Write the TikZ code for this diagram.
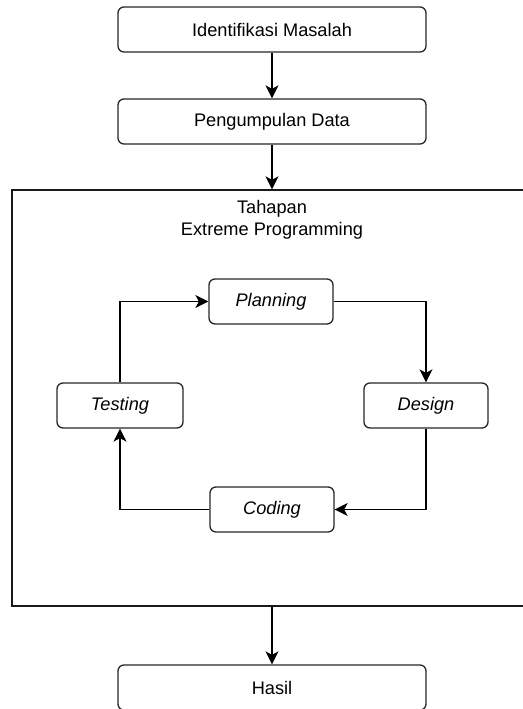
\documentclass[tikz,border=0pt]{standalone}
\usepackage{fontspec}
\setmainfont{Liberation Sans}
\usetikzlibrary{arrows.meta}

\begin{document}
\begin{tikzpicture}[x=1pt, y=-1pt,
  line width=1.3pt,
  every node/.style={font=\fontsize{18.2}{22}\selectfont, inner sep=0pt},
  flowbox/.style={draw=black!85, rounded corners=6pt, minimum width=308pt, minimum height=45pt},
  phase/.style={draw=black!85, rounded corners=6pt, minimum width=124pt, minimum height=45pt, font=\fontsize{18.2}{22}\selectfont\itshape},
  frame/.style={draw=black!90, minimum width=520pt, minimum height=416pt},
  link/.style={draw=black, -{Stealth[length=13pt, width=13pt, inset=3.5pt]}}
]
\useasboundingbox (0,0) rectangle (522,709);

% main flow
\node[flowbox] (ident) at (272,29.5) {Identifikasi Masalah};
\node[flowbox] (data) at (272,121.5) {Pengumpulan Data};
\node[frame] (xp) at (272,398) {};
\node[align=center] (title) at (272,220) {Tahapan\\Extreme Programming};
\node[flowbox] (hasil) at (272,687.5) {Hasil};

% XP cycle
\node[phase] (plan) at (271,301.5) {Planning};
\node[phase] (design) at (426,405.5) {Design};
\node[phase] (coding) at (272,509.5) {Coding};
\node[phase, minimum width=126pt] (testing) at (120,405.5) {Testing};

% connectors
\draw[link] (ident) -- (data);
\draw[link] (data) -- (xp.north);
\draw[link] (xp.south) -- (hasil);

\draw[link] (plan.east) -| (design.north);
\draw[link] (design.south) |- (coding.east);
\draw[link] (coding.west) -| (testing.south);
\draw[link] (testing.north) |- (plan.west);
\end{tikzpicture}
\end{document}
